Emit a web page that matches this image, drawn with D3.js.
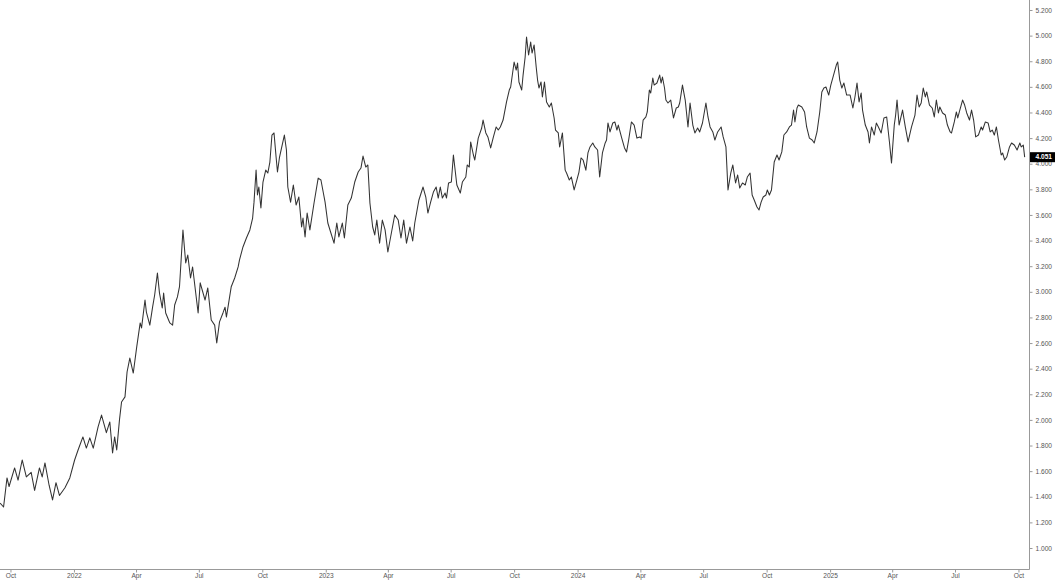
<!DOCTYPE html>
<html>
<head>
<meta charset="utf-8">
<script src="https://cdn.jsdelivr.net/npm/d3@7"></script>
<style>
  body { margin: 0; background: #fff; }
  svg { display: block; }
  .tick text { font-family: "Liberation Sans", Arial, sans-serif; font-size: 6.6px; fill: #555; }
</style>
</head>
<body>
<div id="chart"></div>
<script>
// dates and closes
var dates = [
  "2021-09-16","2021-09-21","2021-09-26","2021-09-29","2021-10-07","2021-10-12","2021-10-18","2021-10-24","2021-10-31","2021-11-05",
  "2021-11-12","2021-11-16","2021-11-20","2021-11-26","2021-12-01","2021-12-06","2021-12-11","2021-12-19","2021-12-26","2022-01-02",
  "2022-01-07","2022-01-14","2022-01-19","2022-01-24","2022-01-29","2022-02-05","2022-02-10","2022-02-17","2022-02-22","2022-02-26",
  "2022-03-01","2022-03-04","2022-03-08","2022-03-11","2022-03-16","2022-03-19","2022-03-23","2022-03-28","2022-04-02","2022-04-07",
  "2022-04-09","2022-04-14","2022-04-16","2022-04-21","2022-04-25","2022-04-28","2022-05-02","2022-05-05","2022-05-09","2022-05-11",
  "2022-05-14","2022-05-20","2022-05-24","2022-05-27","2022-05-31","2022-06-03","2022-06-08","2022-06-12","2022-06-15","2022-06-19",
  "2022-06-22","2022-06-30","2022-07-03","2022-07-10","2022-07-14","2022-07-19","2022-07-24","2022-07-27","2022-07-31","2022-08-05",
  "2022-08-08","2022-08-10","2022-08-17","2022-08-22","2022-08-27","2022-08-29","2022-09-03","2022-09-08","2022-09-13","2022-09-17",
  "2022-09-19","2022-09-22","2022-09-24","2022-09-26","2022-09-29","2022-10-02","2022-10-06","2022-10-09","2022-10-12","2022-10-15",
  "2022-10-18","2022-10-21","2022-10-23","2022-10-26","2022-11-02","2022-11-05","2022-11-07","2022-11-11","2022-11-15","2022-11-19",
  "2022-11-23","2022-11-27","2022-11-29","2022-12-02","2022-12-05","2022-12-09","2022-12-15","2022-12-21","2022-12-25","2022-12-31",
  "2023-01-04","2023-01-08","2023-01-13","2023-01-17","2023-01-20","2023-01-25","2023-01-28","2023-02-02","2023-02-07","2023-02-12",
  "2023-02-17","2023-02-21","2023-02-24","2023-02-28","2023-03-03","2023-03-06","2023-03-10","2023-03-13","2023-03-16","2023-03-20",
  "2023-03-24","2023-03-28","2023-04-01","2023-04-05","2023-04-11","2023-04-16","2023-04-20","2023-04-24","2023-04-28","2023-05-03",
  "2023-05-07","2023-05-10","2023-05-16","2023-05-22","2023-05-26","2023-05-29","2023-06-02","2023-06-06","2023-06-10","2023-06-13",
  "2023-06-16","2023-06-19","2023-06-23","2023-06-25","2023-06-28","2023-07-02","2023-07-05","2023-07-10","2023-07-15","2023-07-18",
  "2023-07-23","2023-07-25","2023-07-28","2023-07-30","2023-08-03","2023-08-05","2023-08-10","2023-08-15","2023-08-17","2023-08-21",
  "2023-08-24","2023-08-28","2023-09-01","2023-09-05","2023-09-08","2023-09-11","2023-09-15","2023-09-20","2023-09-24","2023-09-26",
  "2023-10-01","2023-10-04","2023-10-06","2023-10-08","2023-10-12","2023-10-14","2023-10-17","2023-10-19","2023-10-22","2023-10-25",
  "2023-10-27","2023-10-30","2023-11-02","2023-11-04","2023-11-06","2023-11-09","2023-11-11","2023-11-14","2023-11-17","2023-11-21",
  "2023-11-24","2023-11-28","2023-11-30","2023-12-04","2023-12-06","2023-12-10","2023-12-14","2023-12-16","2023-12-20","2023-12-23",
  "2023-12-27","2023-12-31","2024-01-03","2024-01-06","2024-01-09","2024-01-13","2024-01-16","2024-01-19","2024-01-23","2024-01-26",
  "2024-01-30","2024-02-02","2024-02-06","2024-02-10","2024-02-12","2024-02-14","2024-02-17","2024-02-21","2024-02-24","2024-02-27",
  "2024-02-29","2024-03-05","2024-03-09","2024-03-12","2024-03-15","2024-03-19","2024-03-23","2024-03-27","2024-03-31","2024-04-02",
  "2024-04-05","2024-04-09","2024-04-11","2024-04-14","2024-04-16","2024-04-19","2024-04-21","2024-04-25","2024-04-29","2024-05-01",
  "2024-05-03","2024-05-06","2024-05-08","2024-05-11","2024-05-15","2024-05-19","2024-05-23","2024-05-26","2024-05-28","2024-06-01",
  "2024-06-05","2024-06-09","2024-06-12","2024-06-16","2024-06-19","2024-06-23","2024-06-26","2024-06-30","2024-07-05","2024-07-08",
  "2024-07-11","2024-07-15","2024-07-18","2024-07-22","2024-07-27","2024-07-30","2024-08-03","2024-08-06","2024-08-10","2024-08-13",
  "2024-08-17","2024-08-20","2024-08-23","2024-08-27","2024-08-31","2024-09-03","2024-09-07","2024-09-10","2024-09-13","2024-09-17",
  "2024-09-20","2024-09-23","2024-09-26","2024-09-30","2024-10-02","2024-10-05","2024-10-08","2024-10-12","2024-10-16","2024-10-19",
  "2024-10-23","2024-10-26","2024-10-30","2024-11-03","2024-11-06","2024-11-09","2024-11-11","2024-11-14","2024-11-16","2024-11-21",
  "2024-11-25","2024-11-28","2024-12-02","2024-12-06","2024-12-09","2024-12-13","2024-12-17","2024-12-20","2024-12-23","2024-12-26",
  "2024-12-30","2025-01-02","2025-01-06","2025-01-10","2025-01-12","2025-01-15","2025-01-18","2025-01-21","2025-01-25","2025-01-30",
  "2025-02-03","2025-02-06","2025-02-09","2025-02-12","2025-02-15","2025-02-17","2025-02-21","2025-02-25","2025-02-27","2025-03-02",
  "2025-03-06","2025-03-09","2025-03-12","2025-03-16","2025-03-20","2025-03-24","2025-03-28","2025-03-31","2025-04-04","2025-04-06",
  "2025-04-08","2025-04-11","2025-04-16","2025-04-20","2025-04-24","2025-04-29","2025-05-04","2025-05-07","2025-05-10","2025-05-13",
  "2025-05-16","2025-05-19","2025-05-21","2025-05-25","2025-05-29","2025-06-01","2025-06-04","2025-06-07","2025-06-09","2025-06-13",
  "2025-06-17","2025-06-20","2025-06-24","2025-06-26","2025-06-30","2025-07-03","2025-07-05","2025-07-08","2025-07-12","2025-07-15",
  "2025-07-18","2025-07-22","2025-07-25","2025-07-28","2025-07-31","2025-08-04","2025-08-08","2025-08-10","2025-08-14","2025-08-18",
  "2025-08-21","2025-08-24","2025-08-27","2025-08-30","2025-09-02","2025-09-06","2025-09-08","2025-09-11","2025-09-14","2025-09-18",
  "2025-09-21","2025-09-25","2025-09-29","2025-10-03","2025-10-05","2025-10-08","2025-10-10"
];

var closes = [
  1.35,1.32,1.547,1.48,1.625,1.53,1.687,1.555,1.59,1.45,
  1.625,1.555,1.664,1.49,1.375,1.51,1.41,1.47,1.547,1.687,
  1.765,1.867,1.78,1.86,1.78,1.945,2.038,1.9,1.984,1.742,
  1.867,1.765,2.0,2.14,2.18,2.374,2.483,2.366,2.57,2.757,
  2.718,2.936,2.842,2.74,2.88,2.975,3.147,2.99,2.874,2.99,
  2.835,2.757,2.74,2.897,2.96,3.04,3.483,3.225,3.287,3.108,
  3.194,2.835,3.07,2.936,3.03,2.78,2.74,2.6,2.765,2.835,
  2.88,2.803,3.04,3.108,3.194,3.25,3.35,3.42,3.483,3.576,
  3.7,3.95,3.756,3.818,3.654,3.857,3.95,3.927,4.013,4.224,
  4.24,4.052,3.935,4.052,4.224,4.107,3.818,3.7,3.834,3.678,
  3.74,3.506,3.576,3.428,3.615,3.483,3.693,3.888,3.873,3.7,
  3.537,3.467,3.38,3.537,3.428,3.537,3.42,3.678,3.732,3.857,
  3.935,3.966,4.06,3.974,3.99,3.693,3.506,3.444,3.56,3.38,
  3.56,3.483,3.311,3.428,3.6,3.56,3.42,3.56,3.38,3.506,
  3.397,3.537,3.717,3.818,3.74,3.615,3.7,3.779,3.818,3.732,
  3.818,3.732,3.771,3.732,3.85,3.857,4.068,3.834,3.771,3.857,
  3.896,3.99,3.974,4.17,4.068,4.029,4.2,4.279,4.341,4.24,
  4.209,4.123,4.209,4.287,4.263,4.287,4.341,4.482,4.575,4.599,
  4.794,4.731,4.786,4.638,4.575,4.692,4.833,4.989,4.849,4.95,
  4.864,4.927,4.755,4.653,4.591,4.638,4.521,4.638,4.482,4.443,
  4.474,4.357,4.263,4.24,4.131,4.24,3.95,3.927,3.873,3.896,
  3.795,3.873,3.935,4.045,4.029,3.95,4.084,4.131,4.162,4.131,
  4.107,3.896,4.084,4.162,4.185,4.318,4.248,4.318,4.326,4.263,
  4.302,4.2,4.123,4.092,4.185,4.326,4.302,4.2,4.209,4.2,
  4.341,4.365,4.404,4.575,4.552,4.669,4.614,4.63,4.692,4.63,
  4.677,4.591,4.497,4.474,4.497,4.357,4.435,4.443,4.474,4.614,
  4.497,4.287,4.474,4.302,4.24,4.279,4.248,4.318,4.474,4.365,
  4.287,4.248,4.185,4.248,4.287,4.209,4.131,3.795,3.927,3.99,
  3.85,3.912,3.81,3.85,3.834,3.896,3.927,3.756,3.717,3.662,
  3.639,3.7,3.74,3.756,3.795,3.756,3.795,4.013,4.068,4.029,
  4.092,4.224,4.248,4.287,4.302,4.419,4.326,4.435,4.458,4.443,
  4.404,4.287,4.2,4.185,4.162,4.248,4.404,4.56,4.591,4.599,
  4.536,4.614,4.692,4.77,4.794,4.653,4.591,4.63,4.536,4.536,
  4.435,4.521,4.63,4.482,4.552,4.419,4.302,4.248,4.162,4.287,
  4.224,4.318,4.287,4.24,4.357,4.365,4.17,4.005,4.302,4.38,
  4.497,4.302,4.419,4.287,4.17,4.287,4.38,4.536,4.443,4.474,
  4.591,4.521,4.56,4.458,4.435,4.365,4.497,4.396,4.443,4.396,
  4.38,4.302,4.248,4.24,4.326,4.404,4.357,4.419,4.497,4.458,
  4.396,4.341,4.419,4.341,4.209,4.224,4.287,4.263,4.326,4.318,
  4.248,4.263,4.224,4.287,4.185,4.068,4.084,4.029,4.052,4.131,
  4.162,4.146,4.107,4.162,4.131,4.146,4.051
];

var yTicks = [1.0,1.2,1.4,1.6,1.8,2.0,2.2,2.4,2.6,2.8,3.0,3.2,3.4,3.6,3.8,4.0,4.2,4.4,4.6,4.8,5.0,5.2];
var xTicks = ["2021-10-01","2022-01-01","2022-04-01","2022-07-01","2022-10-01","2023-01-01","2023-04-01","2023-07-01","2023-10-01",
  "2024-01-01","2024-04-01","2024-07-01","2024-10-01","2025-01-01","2025-04-01","2025-07-01","2025-10-01"];

var W = 1055, H = 581;
var plotRight = 1029.5, plotBottom = 569.5;

var parse = d3.utcParse("%Y-%m-%d");
var data = dates.map(function(d, i) { return { date: parse(d), value: closes[i] }; });

var svg = d3.select("#chart").append("svg")
  .attr("width", W)
  .attr("height", H);

var x = d3.scaleUtc()
  .domain([new Date(Date.UTC(2021, 8, 15, 20)), new Date(Date.UTC(2025, 9, 17))])
  .range([0, plotRight]);

var y = d3.scaleLinear()
  .domain([1.0, 5.2])
  .range([548, 10]);

svg.append("clipPath").attr("id", "clip")
  .append("rect").attr("x", 0).attr("y", 0).attr("width", plotRight).attr("height", plotBottom);

var line = d3.line()
  .x(function(d) { return x(d.date); })
  .y(function(d) { return y(d.value); });

svg.append("path")
  .datum(data)
  .attr("clip-path", "url(#clip)")
  .attr("d", line)
  .style("fill", "none")
  .style("stroke", "#333")
  .style("stroke-width", 1.05)
  .style("stroke-linejoin", "round");

// frame lines
svg.append("line")
  .attr("x1", 0).attr("x2", plotRight).attr("y1", plotBottom).attr("y2", plotBottom)
  .style("stroke", "#999");
svg.append("line")
  .attr("x1", plotRight).attr("x2", plotRight).attr("y1", 0).attr("y2", plotBottom)
  .style("stroke", "#999");

var fmtMonth = d3.utcFormat("%b"), fmtYear = d3.utcFormat("%Y");

var xAxis = svg.append("g")
  .attr("transform", "translate(0," + plotBottom + ")")
  .call(d3.axisBottom(x)
    .tickValues(xTicks.map(parse))
    .tickSize(3)
    .tickPadding(1.2)
    .tickFormat(function(d) { return d.getUTCMonth() === 0 ? fmtYear(d) : fmtMonth(d); }));
xAxis.select(".domain").remove();
xAxis.selectAll(".tick line").style("stroke", "#999");

var yAxis = svg.append("g")
  .attr("transform", "translate(" + plotRight + ",0)")
  .call(d3.axisRight(y)
    .tickValues(yTicks)
    .tickSize(3)
    .tickPadding(3)
    .tickFormat(d3.format(".3f")));
yAxis.select(".domain").remove();
yAxis.selectAll(".tick line").style("stroke", "#999");

// last value tag
var last = data[data.length - 1];
svg.append("rect")
  .attr("x", plotRight + 0.5)
  .attr("y", y(last.value) - 5)
  .attr("width", 25)
  .attr("height", 10)
  .style("fill", "#000");
svg.append("text")
  .attr("x", 1035.5)
  .attr("y", y(last.value))
  .attr("dy", "0.34em")
  .style("font-family", "'Liberation Sans', Arial, sans-serif")
  .style("font-size", "6.6px")
  .style("font-weight", "bold")
  .style("fill", "#fff")
  .text(d3.format(".3f")(last.value));
</script>
</body>
</html>
